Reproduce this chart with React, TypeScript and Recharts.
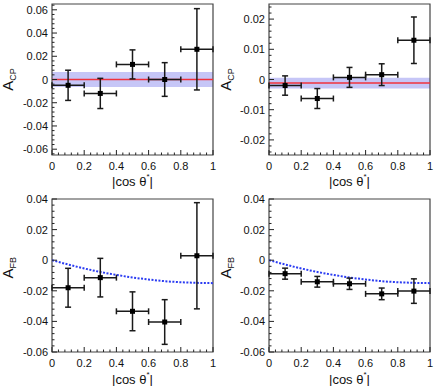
import React from 'react';
import { ComposedChart, Scatter, Line, XAxis, YAxis, ErrorBar, ReferenceArea, ReferenceLine } from 'recharts';

// bins in |cos theta*|
const binCentres = [0.1, 0.3, 0.5, 0.7, 0.9];
const binHalfWidth = [0.1, 0.1, 0.1, 0.1, 0.1];

// A_CP measurements
const acpLeft = [-0.005, -0.012, 0.013, 0.0, 0.026];
const acpLeftErr = [0.013, 0.013, 0.0125, 0.0145, 0.035];
const acpRight = [-0.002, -0.0063, 0.0007, 0.0016, 0.013];
const acpRightErr = [0.0032, 0.0033, 0.0033, 0.0036, 0.0077];

// A_FB measurements
const afbLeft = [-0.018, -0.0114, -0.0334, -0.0404, 0.0029];
const afbLeftErr = [0.0127, 0.0126, 0.0127, 0.0146, 0.0347];
const afbRight = [-0.0088, -0.0141, -0.0154, -0.022, -0.0202];
const afbRightErr = [0.0036, 0.0035, 0.0037, 0.0038, 0.008];

// fitted constant A_CP and its uncertainty band
const acpLeftFit = 0;
const acpLeftBand = [-0.0065, 0.0065];
const acpRightFit = -0.0012;
const acpRightBand = [-0.003, 0.0006];

// expected A_FB curve
const curveX = [0, 0.1, 0.2, 0.3, 0.4, 0.5, 0.6, 0.7, 0.8, 0.9, 1];
const curveY = [0, -0.0028, -0.0054, -0.0077, -0.0096, -0.0113, -0.0126, -0.0137, -0.0144, -0.0148, -0.015];

// tick labels
const xTickLabels = [0, 0.2, 0.4, 0.6, 0.8, 1];
const acpLeftTicks = [-0.06, -0.04, -0.02, 0, 0.02, 0.04, 0.06];
const acpRightTicks = [-0.02, -0.01, 0, 0.01, 0.02];
const afbTicks = [-0.06, -0.04, -0.02, 0, 0.02, 0.04];

const FONT = '"Liberation Sans", Arial, Helvetica, sans-serif';
const INK = '#222';

// major + minor tick positions
const tickRange = (lo: number, hi: number, step: number) => {
    const out: number[] = [];
    const n = Math.round((hi - lo) / step);
    for (let i = 0; i <= n; i++) out.push(+(lo + i * step).toFixed(5));
    return out;
};
const isMajor = (v: number, majors: number[]) => majors.some((m) => Math.abs(m - v) < 1e-6);
const fmt = (v: number) => String(+v.toFixed(4));

const XTick = (p: any) => {
    const major = isMajor(p.payload.value, p.majors);
    return (
        <g>
            <line x1={p.x} x2={p.x} y1={p.y} y2={p.y - (major ? 5 : 2.5)} stroke={INK} strokeWidth={1} />
            {major && (
                <text x={p.x} y={p.y + 15} textAnchor="middle" fontSize={11} fill="#111" fontFamily={FONT}>
                    {fmt(p.payload.value)}
                </text>
            )}
        </g>
    );
};

const YTick = (p: any) => {
    const major = isMajor(p.payload.value, p.majors);
    return (
        <g>
            <line x1={p.x} x2={p.x + (major ? 5 : 2.5)} y1={p.y} y2={p.y} stroke={INK} strokeWidth={1} />
            {major && (
                <text x={p.x - 4} y={p.y + 4} textAnchor="end" fontSize={11} fill="#111" fontFamily={FONT}>
                    {fmt(p.payload.value)}
                </text>
            )}
        </g>
    );
};

const XTitle = (p: any) => {
    const vb = p.viewBox;
    return (
        <text x={vb.x + vb.width / 2} y={vb.y + p.dy} textAnchor="middle" fontSize={13} fill="#111" fontFamily={FONT}>
            |cos θ<tspan fontSize={8} dy={-7}>*</tspan>
            <tspan dy={7}>|</tspan>
        </text>
    );
};

const YTitle = (p: any) => {
    const vb = p.viewBox;
    const cx = vb.x + 13;
    const cy = vb.y + vb.height * p.frac;
    return (
        <text x={cx} y={cy} transform={`rotate(-90, ${cx}, ${cy})`} textAnchor="middle" fontSize={15} fill="#111" fontFamily={FONT}>
            A<tspan fontSize={9} dy={3}>{p.sub}</tspan>
        </text>
    );
};

const Marker = (p: any) => <rect x={p.cx - 2.5} y={p.cy - 2.5} width={5} height={5} fill="#000" />;

interface PanelProps {
    left: number;
    top: number;
    margin: { top: number; right: number; left: number; bottom: number };
    yWidth: number;
    xHeight: number;
    domain: [number, number];
    majors: number[];
    minorStep: number;
    minorRange: [number, number];
    sub: string;
    titleFrac: number;
    titleDy: number;
    values: number[];
    errors: number[];
    fit?: number;
    band?: number[];
    curve?: boolean;
}

const Panel = (cfg: PanelProps) => {
    const points = binCentres.map((x, i) => ({ x, y: cfg.values[i], ex: binHalfWidth[i], ey: cfg.errors[i] }));
    const curve = curveX.map((x, i) => ({ x, y: curveY[i] }));
    return (
        <div style={{ position: 'absolute', left: cfg.left, top: cfg.top }}>
            <ComposedChart width={218} height={193} margin={cfg.margin} style={{ fontFamily: FONT }}>
                <XAxis
                    type="number"
                    dataKey="x"
                    domain={[0, 1]}
                    allowDataOverflow
                    ticks={tickRange(0, 1, 0.04)}
                    interval={0}
                    tickSize={0}
                    tickMargin={0}
                    axisLine={false}
                    height={cfg.xHeight}
                    tick={(p: any) => <XTick {...p} majors={xTickLabels} />}
                    label={(p: any) => <XTitle {...p} dy={cfg.titleDy} />}
                />
                <YAxis
                    type="number"
                    domain={cfg.domain}
                    allowDataOverflow
                    ticks={tickRange(cfg.minorRange[0], cfg.minorRange[1], cfg.minorStep)}
                    interval={0}
                    tickSize={0}
                    tickMargin={0}
                    axisLine={false}
                    width={cfg.yWidth}
                    tick={(p: any) => <YTick {...p} majors={cfg.majors} />}
                    label={(p: any) => <YTitle {...p} sub={cfg.sub} frac={cfg.titleFrac} />}
                />
                {cfg.band && (
                    <ReferenceArea x1={0} x2={1} y1={cfg.band[0]} y2={cfg.band[1]} fill="#c6c6f7" fillOpacity={1} stroke="none" />
                )}
                {cfg.fit !== undefined && <ReferenceLine y={cfg.fit} stroke="#f0323c" strokeWidth={1.5} />}
                {cfg.curve && (
                    <Line
                        data={curve}
                        dataKey="y"
                        type="monotone"
                        stroke="#2b3cf2"
                        strokeWidth={2}
                        strokeDasharray="2 1.5"
                        dot={false}
                        activeDot={false}
                        isAnimationActive={false}
                    />
                )}
                <Scatter data={points} dataKey="y" shape={Marker} isAnimationActive={false}>
                    <ErrorBar dataKey="ex" direction="x" width={3} stroke="#1a1a1a" strokeWidth={1.5} isAnimationActive={false} />
                    <ErrorBar dataKey="ey" direction="y" width={3} stroke="#1a1a1a" strokeWidth={1.5} isAnimationActive={false} />
                </Scatter>
                <ReferenceArea x1={0} x2={1} y1={cfg.domain[0]} y2={cfg.domain[1]} fill="none" stroke="#444" strokeWidth={1.2} />
            </ComposedChart>
        </div>
    );
};

export default function App() {
    return (
        <div style={{ position: 'absolute', left: 0, top: 0, width: 436, height: 386, background: '#fff' }}>
            <Panel
                left={0}
                top={0}
                margin={{ top: 4, right: 5, left: 0, bottom: 0 }}
                yWidth={52}
                xHeight={38}
                domain={[-0.065, 0.065]}
                majors={acpLeftTicks}
                minorStep={0.004}
                minorRange={[-0.064, 0.064]}
                sub="CP"
                titleFrac={0.5}
                titleDy={31}
                values={acpLeft}
                errors={acpLeftErr}
                fit={acpLeftFit}
                band={acpLeftBand}
            />
            <Panel
                left={218}
                top={0}
                margin={{ top: 4, right: 6, left: 0, bottom: 0 }}
                yWidth={51}
                xHeight={38}
                domain={[-0.025, 0.025]}
                majors={acpRightTicks}
                minorStep={0.002}
                minorRange={[-0.024, 0.024]}
                sub="CP"
                titleFrac={0.5}
                titleDy={31}
                values={acpRight}
                errors={acpRightErr}
                fit={acpRightFit}
                band={acpRightBand}
            />
            <Panel
                left={0}
                top={193}
                margin={{ top: 6, right: 5, left: 0, bottom: 0 }}
                yWidth={52}
                xHeight={34}
                domain={[-0.06, 0.04]}
                majors={afbTicks}
                minorStep={0.004}
                minorRange={[-0.06, 0.04]}
                sub="FB"
                titleFrac={0.45}
                titleDy={32}
                values={afbLeft}
                errors={afbLeftErr}
                curve
            />
            <Panel
                left={218}
                top={193}
                margin={{ top: 6, right: 6, left: 0, bottom: 0 }}
                yWidth={51}
                xHeight={34}
                domain={[-0.06, 0.04]}
                majors={afbTicks}
                minorStep={0.004}
                minorRange={[-0.06, 0.04]}
                sub="FB"
                titleFrac={0.45}
                titleDy={32}
                values={afbRight}
                errors={afbRightErr}
                curve
            />
        </div>
    );
}
